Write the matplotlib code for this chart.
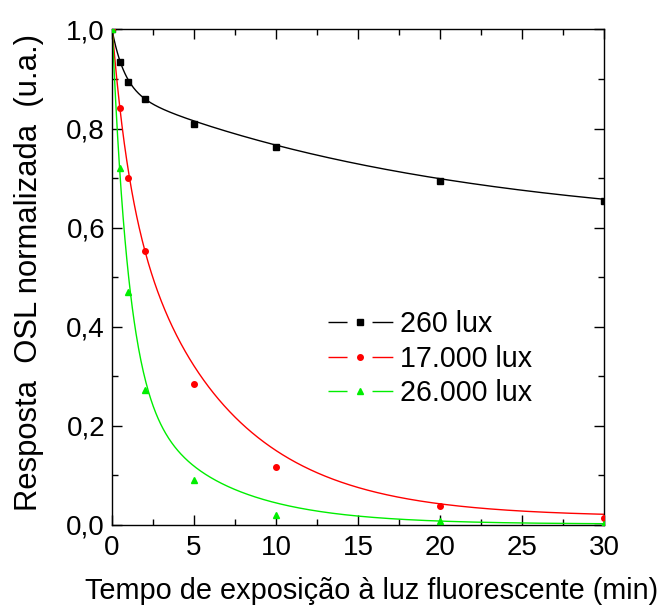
import numpy as np
import matplotlib
matplotlib.use("Agg")
import matplotlib.pyplot as plt
from matplotlib.lines import Line2D
from matplotlib.ticker import MultipleLocator, FuncFormatter

plt.rcParams['font.family'] = ['Liberation Sans', 'DejaVu Sans']

# exposure time (min) of the measured points
tempo = [0, 0.5, 1, 2, 5, 10, 20, 30]

# normalized OSL response for each illuminance
resp_260 = [1.0, 0.934, 0.893, 0.860, 0.810, 0.762, 0.695, 0.653]
resp_17000 = [1.0, 0.842, 0.700, 0.553, 0.285, 0.117, 0.038, 0.015]
resp_26000 = [1.0, 0.720, 0.470, 0.273, 0.091, 0.021, 0.008, 0.001]

# decay fit curves, sampled along the time axis
tempo_fit = [0, 0.25, 0.5, 0.75, 1, 1.5, 2, 3, 4, 5, 6, 7.5, 10, 12.5, 15, 20, 25, 30]
fit_260 = [1.0, 0.963, 0.935, 0.912, 0.895, 0.876, 0.863, 0.843, 0.828, 0.814,
           0.802, 0.787, 0.765, 0.747, 0.732, 0.700, 0.675, 0.656]
fit_17000 = [1.0, 0.920, 0.843, 0.770, 0.703, 0.622, 0.555, 0.462, 0.382, 0.318,
             0.268, 0.211, 0.145, 0.110, 0.081, 0.047, 0.029, 0.017]
fit_26000 = [1.0, 0.850, 0.723, 0.590, 0.478, 0.375, 0.302, 0.205, 0.155, 0.122,
             0.095, 0.068, 0.040, 0.026, 0.018, 0.010, 0.006, 0.003]

labels = ['260 lux', '17.000 lux', '26.000 lux']
colors = ['black', '#ff0000', '#00ee00']
markers = ['s', 'o', '^']
msizes = [3.8, 4.0, 4.6]


def expdec2(t, y):
    """Least-squares y = A1 exp(-t/t1) + A2 exp(-t/t2) + y0, grid search over t1 < t2."""
    t = np.asarray(t, float)
    y = np.asarray(y, float)
    taus = np.logspace(-1, 2.7, 150)
    best = None
    for i, t1 in enumerate(taus):
        for t2 in taus[i + 1:]:
            M = np.column_stack([np.exp(-t / t1), np.exp(-t / t2), np.ones_like(t)])
            coef, *_ = np.linalg.lstsq(M, y, rcond=None)
            err = np.sum((M @ coef - y) ** 2)
            if best is None or err < best[0]:
                best = (err, t1, t2, coef)
    _, t1, t2, c = best
    return lambda x: c[0] * np.exp(-x / t1) + c[1] * np.exp(-x / t2) + c[2]


fig = plt.figure(figsize=(6.64, 6.16), dpi=100)
ax = fig.add_axes([0.1687, 0.1478, 0.7410, 0.8044])

tt = np.linspace(0, 30, 800)
handles = []
for ys, fs, lab, c, m, ms in zip([resp_260, resp_17000, resp_26000],
                                 [fit_260, fit_17000, fit_26000],
                                 labels, colors, markers, msizes):
    curve = expdec2(tempo_fit, fs)
    ax.plot(tt, curve(tt), color=c, lw=1.0, zorder=2)
    ax.plot(tempo, ys, ls='none', marker=m, ms=ms, color=c, mec=c, zorder=3)
    # legend entry: line - marker - line
    handles.append(Line2D([], [], color=c, lw=1.0, ls=(0, (13.7, 18, 15, 200)),
                          marker=m, ms=ms, mec=c))

ax.set_xlim(0, 30)
ax.set_ylim(0, 1.0)
ax.xaxis.set_major_locator(MultipleLocator(5))
ax.xaxis.set_minor_locator(MultipleLocator(2.5))
ax.yaxis.set_major_locator(MultipleLocator(0.2))
ax.yaxis.set_minor_locator(MultipleLocator(0.1))
ax.yaxis.set_major_formatter(FuncFormatter(lambda v, p: f"{v:.1f}".replace('.', ',')))
ax.tick_params(which='both', direction='in', top=True, right=True, width=1.0)
ax.tick_params(which='major', length=7, labelsize=20)
ax.tick_params(which='minor', length=4)
ax.tick_params(axis='x', pad=7.5)
ax.tick_params(axis='y', pad=5)
for s in ax.spines.values():
    s.set_linewidth(1.0)

ax.set_xlabel("Tempo de exposição à luz fluorescente (min)", fontsize=20.8)
ax.xaxis.set_label_coords(0.527, -0.105)
ax.set_ylabel("Resposta  OSL normalizada  (u.a.)", fontsize=22.3)
ax.yaxis.set_label_coords(-0.139, 0.51)

ax.legend(handles, labels, loc='upper left', bbox_to_anchor=(0.415, 0.457), frameon=False,
          fontsize=20.6, handlelength=2.27, handletextpad=0.25, labelspacing=0.23,
          borderaxespad=0, numpoints=1)

fig.savefig("out.png", dpi=100)
